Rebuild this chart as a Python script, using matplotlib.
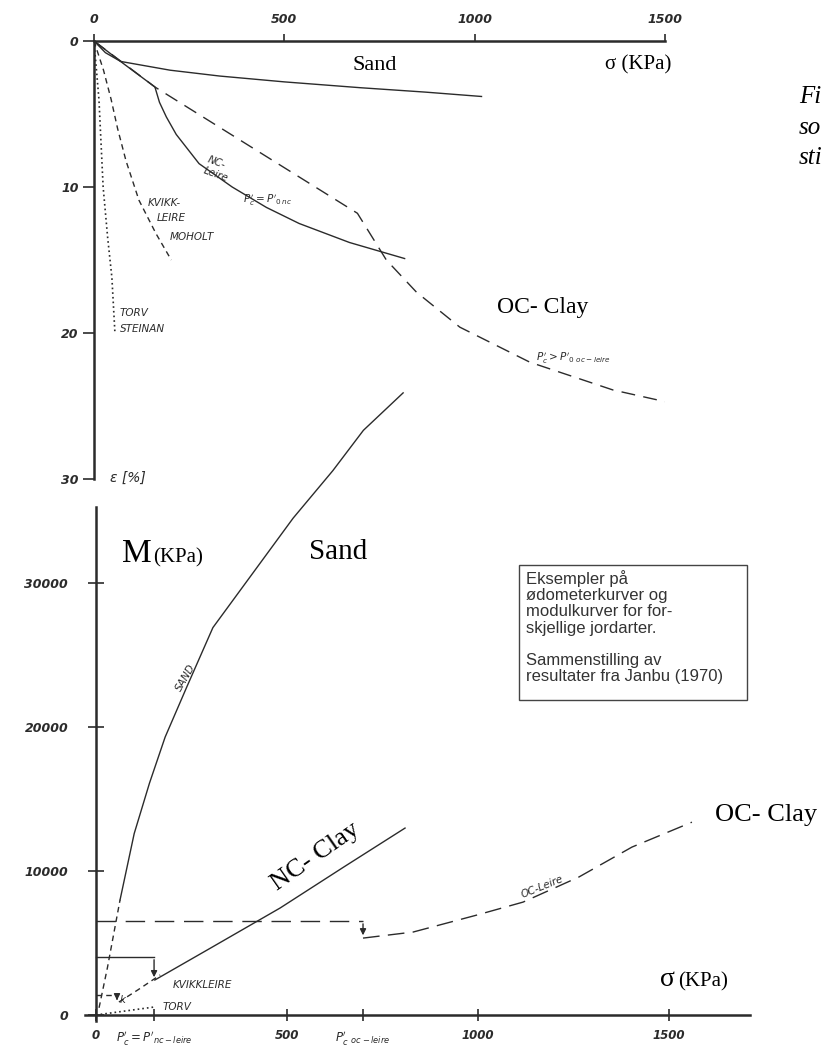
import matplotlib
matplotlib.use("Agg")
import matplotlib.pyplot as plt
from matplotlib.patches import Rectangle

# ----------------------------------------------------------------------
# Data
# ----------------------------------------------------------------------

# top panel: oedometer curves, sigma [kPa] vs strain eps [%]
SAND_TOP_S = [0, 30, 70, 200, 330, 500, 700, 870, 1018]
SAND_TOP_E = [0, 0.8, 1.4, 2.0, 2.4, 2.8, 3.2, 3.5, 3.8]
NC_TOP_S = [0, 80, 160, 172, 190, 216, 276, 363, 453, 539, 671, 816]
NC_TOP_E = [0, 1.6, 3.15, 4.2, 5.2, 6.4, 8.4, 10.0, 11.4, 12.5, 13.8, 14.9]
OC_TOP_S = [0, 160, 692, 768, 847, 961, 1145, 1363, 1500]
OC_TOP_E = [0, 3.15, 11.8, 15.0, 17.2, 19.6, 22.0, 23.9, 24.7]
KVIKK_TOP_S = [0, 25, 45, 62, 84, 118, 163, 203]
KVIKK_TOP_E = [0, 2.0, 4.0, 6.0, 8.2, 10.9, 13.2, 15.0]
TORV_TOP_S = [0, 13, 24, 36, 47, 55]
TORV_TOP_E = [0, 4, 10, 13.5, 16.2, 20]

# bottom panel: modulus curves, sigma [kPa] vs M [kPa]
SAND_M_S = [8, 30, 63, 100, 140, 181, 238, 306, 411, 516, 620, 700, 804]
SAND_M = [500, 3300, 8000, 12600, 16100, 19300, 22800, 26900, 30700,
          34500, 37800, 40600, 43200]
NC_M_S = [154, 300, 482, 650, 809]
NC_M = [2430, 4650, 7430, 10300, 12980]
OC_M_S = [699, 830, 997, 1118, 1264, 1403, 1560]
OC_M = [5340, 5760, 6940, 7840, 9580, 11660, 13390]
KVIKK_M_S = [60, 110, 168]
KVIKK_M = [900, 1750, 2780]
TORV_M_S = [0, 154]
TORV_M = [0, 560]

# preconsolidation steps (sigma_c, M before, M after)
STEP_NC = (152, 4030, 2430)
STEP_OC = (699, 6520, 5340)
STEP_K = (55, 1390, 830)

TOP_XTICKS = [0, 500, 1000, 1500]
TOP_YTICKS = [0, 10, 20, 30]
BOT_XTICKS = [0, 152, 500, 699, 1000, 1500]
BOT_XLABELS = ["0", r"$P_c'=P'_{nc-leire}$", "500", r"$P_c'\ _{oc-leire}$",
               "1000", "1500"]
BOT_YTICKS = [0, 10000, 20000, 30000]

LEGEND_TEXT = ("Eksempler på\nødometerkurver og\nmodulkurver for for-\n"
               "skjellige jordarter.\n\nSammenstilling av\n"
               "resultater fra Janbu (1970)")

W, H = 824, 1062
INK = "#2b2b2b"
HAND = dict(style="italic", color=INK, fontsize=7.5, family="DejaVu Sans")
SERIF = "Liberation Serif"


def fx(x):
    return x / W


def fy(y):
    return 1 - y / H


fig = plt.figure(figsize=(W / 100, H / 100), dpi=100)
fig.patch.set_facecolor("white")

# ----------------------------------------------------------------------
# Top panel (strain axis pointing down, stress axis on top)
# ----------------------------------------------------------------------
ax1 = fig.add_axes([fx(94), fy(479), (665 - 94) / W, (479 - 41) / H])
ax1.set_xlim(0, 1500)
ax1.set_ylim(30, 0)
ax1.set_facecolor("none")
for s in ["right", "bottom"]:
    ax1.spines[s].set_visible(False)
for s in ["top", "left"]:
    ax1.spines[s].set_linewidth(1.8)
    ax1.spines[s].set_color(INK)
ax1.xaxis.tick_top()
ax1.set_xticks(TOP_XTICKS)
ax1.set_yticks(TOP_YTICKS)
ax1.tick_params(axis="x", direction="out", length=5, width=1.2, pad=6,
                labelsize=9, colors=INK)
ax1.tick_params(axis="y", direction="out", length=8, width=1.2, pad=3,
                labelsize=9, colors=INK)
for lab in ax1.get_xticklabels() + ax1.get_yticklabels():
    lab.set_style("italic")
    lab.set_fontweight("bold")

lw = 1.0
ax1.plot(SAND_TOP_S, SAND_TOP_E, color=INK, lw=lw)
ax1.plot(NC_TOP_S, NC_TOP_E, color=INK, lw=lw)
ax1.plot(OC_TOP_S, OC_TOP_E, color=INK, lw=lw, dashes=(10, 6))
ax1.plot(KVIKK_TOP_S, KVIKK_TOP_E, color=INK, lw=lw, dashes=(4, 3))
ax1.plot(TORV_TOP_S, TORV_TOP_E, color=INK, lw=1.2, dashes=(1, 1.8))

ax1.text(284, 8.8, "NC-\nLeire", rotation=-20, va="center", **HAND)
ax1.text(392, 10.9, r"$P_c'=P'_{0\,nc}$", va="center", **HAND)
ax1.text(142, 11.1, "KVIKK-", va="center", **HAND)
ax1.text(166, 12.1, "LEIRE", va="center", **HAND)
ax1.text(200, 13.4, "MOHOLT", va="center", **HAND)
ax1.text(68, 18.6, "TORV", va="center", **HAND)
ax1.text(68, 19.7, "STEINAN", va="center", **HAND)
ax1.text(1160, 21.7, r"$P_c'>P'_{0\ oc-leire}$", va="center", **HAND)
ax1.text(42, 29.9, "ε [%]", va="center", style="italic", color=INK,
         fontsize=10)

# ----------------------------------------------------------------------
# Bottom panel (modulus)
# ----------------------------------------------------------------------
x0_px = 85            # the stress axis starts a little left of M-axis
ax2 = fig.add_axes([fx(x0_px), fy(1021), (750 - x0_px) / W,
                    (1021 - 507) / H])
ax2.set_xlim(-(96 - x0_px) / 0.382, (750 - 96) / 0.382)
ax2.set_ylim(-(1021 - 1015) * 69.44, (1015 - 507) * 69.44)
ax2.set_facecolor("none")
for s in ["right", "top"]:
    ax2.spines[s].set_visible(False)
ax2.spines["left"].set_position(("data", 0))
ax2.spines["bottom"].set_position(("data", 0))
for s in ["bottom", "left"]:
    ax2.spines[s].set_linewidth(1.8)
    ax2.spines[s].set_color(INK)
ax2.set_xticks(BOT_XTICKS)
ax2.set_xticklabels(BOT_XLABELS)
ax2.set_yticks(BOT_YTICKS)
ax2.tick_params(axis="x", direction="inout", length=8, width=1.2, pad=6,
                labelsize=8.5, colors=INK)
ax2.tick_params(axis="y", direction="inout", length=12, width=1.2, pad=14,
                labelsize=9, colors=INK)
for lab in ax2.get_xticklabels() + ax2.get_yticklabels():
    lab.set_style("italic")
    lab.set_fontweight("bold")

ax2.plot(SAND_M_S[:3], SAND_M[:3], color=INK, lw=lw, dashes=(4, 3),
         clip_on=False)
ax2.plot(SAND_M_S[2:], SAND_M[2:], color=INK, lw=lw, clip_on=False)
ax2.plot(NC_M_S, NC_M, color=INK, lw=lw)
ax2.plot(OC_M_S, OC_M, color=INK, lw=lw, dashes=(12, 6))
ax2.plot(KVIKK_M_S, KVIKK_M, color=INK, lw=lw, dashes=(4, 3))
ax2.plot(TORV_M_S, TORV_M, color=INK, lw=1.2, dashes=(1, 1.8))

arrow = dict(arrowstyle="-|>", color=INK, lw=1.0, mutation_scale=9)
# NC step (solid)
sc, m0, m1 = STEP_NC
ax2.plot([0, sc], [m0, m0], color=INK, lw=lw)
ax2.annotate("", xy=(sc, m1), xytext=(sc, m0), arrowprops=arrow)
# OC step (dashed)
sc, m0, m1 = STEP_OC
ax2.plot([0, sc], [m0, m0], color=INK, lw=lw, dashes=(14, 7))
ax2.annotate("", xy=(sc, m1), xytext=(sc, m0), arrowprops=arrow)
# kvikkleire step (dashed)
sc, m0, m1 = STEP_K
ax2.plot([0, sc], [m0, m0], color=INK, lw=lw, dashes=(4, 3))
ax2.annotate("", xy=(sc, m1), xytext=(sc, m0), arrowprops=arrow)

ax2.text(236, 23400, "SAND", rotation=60, ha="center", va="center", **HAND)
ax2.text(200, 2080, "KVIKKLEIRE", va="center", **HAND)
ax2.text(173, 555, "TORV", va="center", **HAND)
ax2.text(63, 1040, "k", va="center", **HAND)
ax2.text(1167, 8880, "OC-Leire", rotation=22, ha="center", va="center",
         **HAND)

# ----------------------------------------------------------------------
# Typed overlays (white patches over the scan)
# ----------------------------------------------------------------------
wbox = dict(facecolor="white", edgecolor="none", pad=4)
fig.text(fx(375), fy(65), "Sand", family=SERIF, fontsize=16,
         ha="center", va="center", bbox=wbox)
fig.text(fx(638), fy(65), "σ (KPa)", family=SERIF, fontsize=15,
         ha="center", va="center", bbox=wbox)
fig.text(fx(543), fy(308), "OC- Clay", family=SERIF, fontsize=17,
         ha="center", va="center", bbox=dict(facecolor="white",
                                             edgecolor="none", pad=8))
fig.text(fx(122), fy(562), "M", family=SERIF, fontsize=24, va="baseline")
fig.text(fx(153), fy(562), "(KPa)", family=SERIF, fontsize=15,
         va="baseline")
fig.text(fx(338), fy(552), "Sand", family=SERIF, fontsize=21,
         ha="center", va="center")
fig.text(fx(316), fy(857), "NC- Clay", family=SERIF, fontsize=19,
         rotation=35, ha="center", va="center", bbox=wbox)
fig.text(fx(766), fy(815), "OC- Clay", family=SERIF, fontsize=19,
         ha="center", va="center", bbox=wbox)
fig.text(fx(660), fy(986), "σ", family=SERIF, fontsize=20, va="baseline")
fig.text(fx(678), fy(986), "(KPa)", family=SERIF, fontsize=15,
         va="baseline")

# caption running off the right edge of the scan
for txt, y in [("Fi", 97), ("so", 128), ("sti", 158)]:
    fig.text(fx(799), fy(y), txt, family=SERIF, style="italic",
             fontsize=18, va="center")

# legend box
fig.patches.append(Rectangle((fx(519), fy(700)), (747 - 519) / W,
                             (700 - 565) / H, transform=fig.transFigure,
                             facecolor="white", edgecolor="#444444",
                             lw=1.0, zorder=5))
fig.text(fx(526), fy(570), LEGEND_TEXT, family="Liberation Sans",
         fontsize=12, color="#333333", va="top", linespacing=1.1,
         zorder=6)

fig.savefig("out.png", dpi=100)
